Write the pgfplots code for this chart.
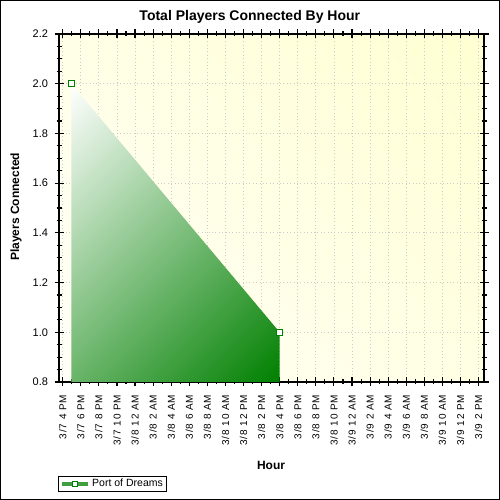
\documentclass[border=0pt]{standalone}
\usepackage{pgfplots}
\pgfplotsset{compat=1.18}
\usepackage{fontspec}
\setmainfont{Liberation Sans}
\newfontfamily\tickfont[LetterSpace=8]{Liberation Sans}

\definecolor{dgreen}{RGB}{0,128,0}
\definecolor{bgtop}{RGB}{255,255,210}
\definecolor{bgbot}{RGB}{255,255,248}
% diagonal gradients: the full colour range spans the corners of the box
\pgfdeclareverticalshading{greendiag}{100bp}{color(0bp)=(dgreen); color(14.6bp)=(dgreen); color(85.4bp)=(white); color(100bp)=(white)}
\pgfdeclareverticalshading{bgdiag}{100bp}{color(0bp)=(bgbot); color(14.6bp)=(bgbot); color(85.4bp)=(bgtop); color(100bp)=(bgtop)}

\begin{document}
\begin{tikzpicture}
  \useasboundingbox (0,0) rectangle (500bp,500bp);
  \draw[line width=1bp] (0.5bp,0.5bp) rectangle (499.5bp,499.5bp);
  \begin{axis}[
    ,at={(59bp,118bp)}
    ,anchor=south west
    ,scale only axis
    ,width=425bp
    ,height=348bp
    ,xmin=-0.41, xmax=46.6
    ,ymin=0.8, ymax=2.2
    ,xtick={0,2,...,46}
    ,xticklabels={3/7 4 PM,3/7 6 PM,3/7 8 PM,3/7 10 PM,3/8 12 AM,3/8 2 AM,3/8 4 AM,3/8 6 AM,3/8 8 AM,3/8 10 AM,3/8 12 PM,3/8 2 PM,3/8 4 PM,3/8 6 PM,3/8 8 PM,3/8 10 PM,3/9 12 AM,3/9 2 AM,3/9 4 AM,3/9 6 AM,3/9 8 AM,3/9 10 AM,3/9 12 PM,3/9 2 PM}
    ,minor x tick num=1
    ,ytick={0.8,1.0,...,2.2}
    ,minor y tick num=3
    ,y tick label style={/pgf/number format/fixed,/pgf/number format/fixed zerofill,/pgf/number format/precision=1,font=\fontsize{11bp}{12bp}\selectfont}
    ,yticklabel shift=3bp
    ,/pgf/number format/assume math mode=true
    ,tick align=center
    ,major tick length=9bp
    ,minor tick length=5bp
    ,every tick/.style={black,line width=1.1bp}
    ,axis line style={line width=1.5bp}
    ,grid=major
    ,major grid style={gray!40,line width=0.8bp,dash pattern=on 0.8bp off 2.6bp}
    ,axis background/.style={shading=bgdiag,shading angle=-45}
    ,xticklabel shift=5bp
    ,x tick label style={rotate=90,anchor=east,font=\tickfont\fontsize{10bp}{11bp}\selectfont}
    ,every axis title shift=0pt
    ,title={Total Players Connected By Hour}
    ,title style={at={(axis description cs:0.449,1.049)},anchor=center,font=\bfseries\fontsize{14bp}{16bp}\selectfont}
    ,xlabel={Hour}
    ,xlabel style={at={(axis description cs:0.499,-0.2385)},anchor=center,font=\bfseries\fontsize{12bp}{14bp}\selectfont}
    ,ylabel={Players Connected}
    ,ylabel style={at={(axis description cs:-0.101,0.503)},anchor=center,font=\bfseries\fontsize{12bp}{14bp}\selectfont}
    ,legend style={at={(axis description cs:-0.002,-0.316)},anchor=south west,draw=black,line width=0.8bp,inner sep=1.2bp,font=\fontsize{10.5bp}{11bp}\selectfont,legend cell align=left}
    ]
    \addplot[draw=none,shading=greendiag,shading angle=45,forget plot]
      coordinates {(0.95,0.8) (0.95,2.0) (24,1.0) (24,0.8)} -- cycle;
    \addplot[only marks,mark=square*,mark size=2.8bp,mark options={draw=dgreen,fill=white,line width=1bp},
      legend image code/.code={
        \draw[line width=4.5bp,color=dgreen!75] (0bp,0bp) -- (26bp,0bp);
        \draw[dgreen,fill=white,line width=0.8bp] (10.5bp,-2.6bp) rectangle (15.5bp,2.6bp);
      }]
      coordinates {(0.95,2.0) (24,1.0)};
    \addlegendentry{Port of Dreams}
  \end{axis}
\end{tikzpicture}
\end{document}
